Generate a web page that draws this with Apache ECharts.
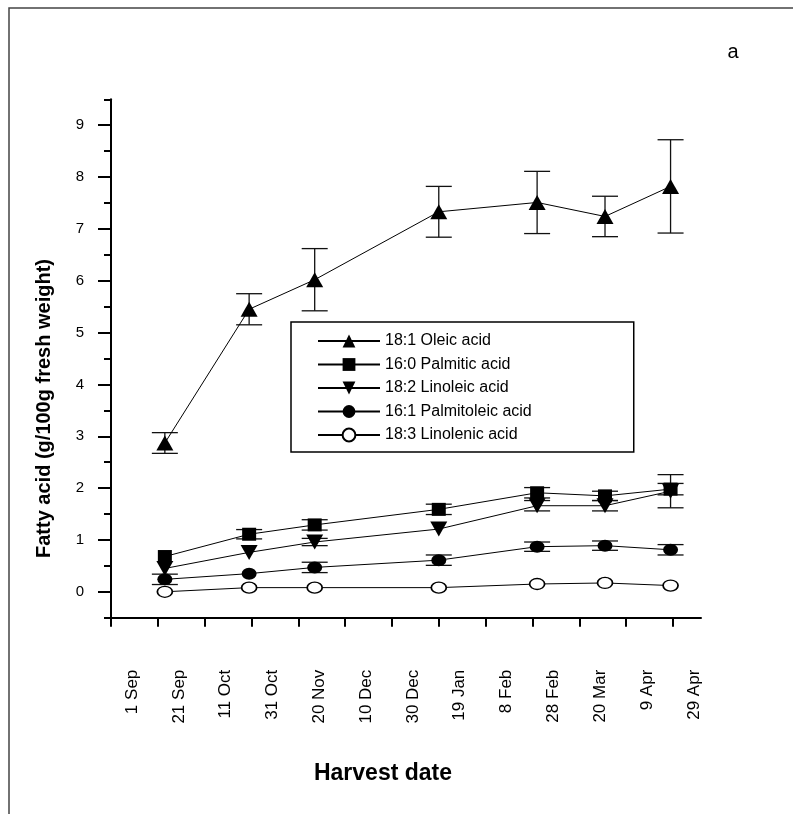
<!DOCTYPE html>
<html><head><meta charset="utf-8">
<script src="https://cdn.jsdelivr.net/npm/echarts@6/dist/echarts.min.js"></script>
<style>html,body{margin:0;padding:0;background:#fff}#c{width:793px;height:814px}</style>
</head><body><div id="c"></div>
<script>
// ---- axis ticks ----
const tickDays = [0, 20, 40, 60, 80, 100, 120, 140, 160, 180, 200, 220, 240];
const tickLabels = ['1 Sep', '21 Sep', '11 Oct', '31 Oct', '20 Nov', '10 Dec', '30 Dec', '19 Jan', '8 Feb', '28 Feb', '20 Mar', '9 Apr', '29 Apr'];
const yTicks = [0, 1, 2, 3, 4, 5, 6, 7, 8, 9];
const yMinorTicks = [-0.5, 0.5, 1.5, 2.5, 3.5, 4.5, 5.5, 6.5, 7.5, 8.5, 9.5];

// ---- data: harvest dates (days after 1 Sep) ----
const harvestDays = [23, 59, 87, 140, 182, 211, 239];

const seriesNames = ['18:1 Oleic acid', '16:0 Palmitic acid', '18:2 Linoleic acid', '16:1 Palmitoleic acid', '18:3 Linolenic acid'];

const oleic = [2.87, 5.45, 6.02, 7.33, 7.51, 7.24, 7.82];
const oleicErr = [0.20, 0.30, 0.60, 0.49, 0.60, 0.39, 0.90];

const palmitic = [0.68, 1.11, 1.29, 1.59, 1.91, 1.85, 1.98];
const palmiticErr = [0, 0.09, 0.10, 0.10, 0.10, 0.09, 0.11];

const linoleic = [0.45, 0.76, 0.96, 1.21, 1.66, 1.66, 1.94];
const linoleicErr = [0, 0, 0.07, 0, 0.10, 0.10, 0.32];

const palmitoleic = [0.24, 0.35, 0.47, 0.61, 0.87, 0.89, 0.81];
const palmitoleicErr = [0.10, 0, 0.10, 0.10, 0.09, 0.09, 0.10];

const linolenic = [0.00, 0.08, 0.08, 0.08, 0.15, 0.17, 0.12];
const linolenicErr = [0, 0, 0, 0, 0, 0, 0];

const FONT = 'Arial, "Liberation Sans", Helvetica, sans-serif';

const defs = [
  {name: seriesNames[0], vals: oleic, errs: oleicErr, symbol: 'triangle', size: [17, 15], rot: 0, fill: '#000'},
  {name: seriesNames[1], vals: palmitic, errs: palmiticErr, symbol: 'rect', size: [14, 13], rot: 0, fill: '#000'},
  {name: seriesNames[2], vals: linoleic, errs: linoleicErr, symbol: 'triangle', size: [17, 15], rot: 180, fill: '#000'},
  {name: seriesNames[3], vals: palmitoleic, errs: palmitoleicErr, symbol: 'circle', size: [15, 12], rot: 0, fill: '#000'},
  {name: seriesNames[4], vals: linolenic, errs: linolenicErr, symbol: 'circle', size: [15, 11], rot: 0, fill: '#fff'}
];

function errRender(params, api) {
  const x = api.value(0), v = api.value(1), e = api.value(2);
  if (!e) return null;
  const t = api.coord([x, v + e]);
  const b = api.coord([x, v - e]);
  const hw = 13;
  const st = {stroke: '#111', lineWidth: 1.3};
  return {type: 'group', children: [
    {type: 'line', shape: {x1: t[0], y1: t[1], x2: b[0], y2: b[1]}, style: st},
    {type: 'line', shape: {x1: t[0] - hw, y1: t[1], x2: t[0] + hw, y2: t[1]}, style: st},
    {type: 'line', shape: {x1: b[0] - hw, y1: b[1], x2: b[0] + hw, y2: b[1]}, style: st}
  ]};
}

const series = [];
defs.forEach(d => {
  series.push({
    type: 'custom', name: d.name + ' SE', silent: true, z: 1,
    renderItem: errRender,
    encode: {x: 0, y: 1},
    data: harvestDays.map((x, i) => [x, d.vals[i], d.errs[i]])
  });
});
defs.forEach(d => {
  series.push({
    type: 'line', name: d.name, z: 3,
    data: harvestDays.map((x, i) => [x, d.vals[i]]),
    symbol: d.symbol, symbolSize: d.size, symbolRotate: d.rot,
    lineStyle: {color: '#000', width: 1},
    itemStyle: {color: d.fill, borderColor: '#000', borderWidth: d.fill === '#fff' ? 1.5 : 0},
    emphasis: {disabled: true}
  });
});

const chart = echarts.init(document.getElementById('c'), null, {renderer: 'canvas'});
chart.setOption({
  animation: false,
  backgroundColor: '#fff',
  textStyle: {fontFamily: FONT, color: '#000'},
  grid: {left: 111, top: 99.3, width: 590, height: 518.4},
  graphic: [
    {type: 'rect', z: -10, shape: {x: 9, y: 8, width: 820, height: 840}, style: {fill: 'none', stroke: '#444', lineWidth: 1.5}},
    {type: 'text', z: 10, style: {text: 'a', x: 733, y: 52, font: '20px ' + FONT, fill: '#000', textAlign: 'center', textVerticalAlign: 'middle'}}
  ],
  legend: {
    data: seriesNames,
    orient: 'vertical',
    left: 291, top: 322,
    padding: [11, 102, 9, 26],
    itemWidth: 62, itemHeight: 16, itemGap: 7.5,
    borderColor: '#000', borderWidth: 1.5,
    backgroundColor: '#fff',
    textStyle: {fontSize: 16, fontFamily: FONT, color: '#000'},
    selectedMode: false
  },
  xAxis: {
    type: 'value', min: 0, max: 252,
    name: 'Harvest date', nameLocation: 'middle', nameGap: 144,
    nameTextStyle: {fontSize: 23, fontWeight: 'bold', fontFamily: FONT, color: '#000', padding: [0, 46, 0, 0]},
    axisLine: {onZero: false, lineStyle: {color: '#000', width: 2}},
    axisTick: {customValues: tickDays, length: 9, lineStyle: {color: '#000', width: 2}},
    axisLabel: {customValues: tickDays, rotate: 90, margin: 52, fontSize: 17, color: '#000', fontFamily: FONT,
      verticalAlign: 'top', lineHeight: 42,
      formatter: v => { const i = tickDays.indexOf(v); return i >= 0 ? tickLabels[i] : ''; }},
    splitLine: {show: false}
  },
  yAxis: [{
    type: 'value', min: -0.5, max: 9.5,
    name: 'Fatty acid (g/100g fresh weight)', nameLocation: 'middle', nameGap: 57,
    nameTextStyle: {fontSize: 20, fontWeight: 'bold', fontFamily: FONT, color: '#000', padding: [0, 100, 0, 0]},
    axisLine: {onZero: false, lineStyle: {color: '#000', width: 2}},
    axisTick: {customValues: yTicks, length: 13, lineStyle: {color: '#000', width: 2}},
    axisLabel: {customValues: yTicks, margin: 27, fontSize: 15, color: '#000', fontFamily: FONT},
    splitLine: {show: false}
  }, {
    type: 'value', min: -0.5, max: 9.5, position: 'left',
    axisLine: {show: false},
    axisTick: {show: true, customValues: yMinorTicks, length: 7, lineStyle: {color: '#000', width: 2}},
    axisLabel: {show: false},
    splitLine: {show: false}
  }],
  series: series
});
</script>
</body></html>
